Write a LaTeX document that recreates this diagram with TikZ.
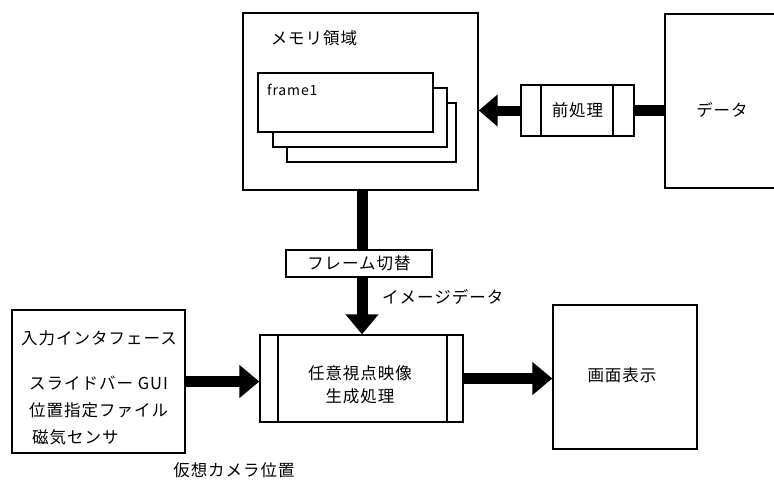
\documentclass[tikz,border=0pt]{standalone}
\usepackage{fontspec}
\setmainfont{Noto Sans CJK JP}[LetterSpace=6]
\usetikzlibrary{arrows.meta,calc}
\tikzset{
  box/.style={draw, line width=1.4pt, fill=white, inner sep=0pt},
  lbl/.style={font=\fontsize{16.5}{18}\selectfont, inner sep=0pt},
  fat/.style={line width=11pt},
  fatarrow/.style={line width=11pt, -{Triangle[length=20pt,width=32pt]}},
}
\begin{document}
\begin{tikzpicture}[x=1pt,y=-1pt]
\useasboundingbox (0,0) rectangle (774,482);
% memory area
\node[box, minimum width=235pt, minimum height=177pt] (mem) at (360.5,101.5) {};
\node[lbl] (memt) at (314,38) {メモリ領域};
\node[box, line width=1.2pt, minimum width=169pt, minimum height=59pt] (f3) at (371.5,132.5) {};
\node[box, line width=1.2pt, minimum width=174pt, minimum height=59pt] (f2) at (360,117.5) {};
\node[box, line width=1.2pt, minimum width=175pt, minimum height=59pt] (f1) at (345.5,102.5) {};
\node[lbl, anchor=west, font=\fontsize{14}{16}\selectfont] (f1t) at (267,90) {frame1};
% data
\node[box, minimum width=115pt, minimum height=174pt] (data) at (722.5,101) {};
\node[lbl] (datat) at (722,110) {データ};
% preprocessing
\node[box, minimum width=113pt, minimum height=51pt, lbl] (pre) at (577.5,110.5) {前処理};
\draw[line width=1.2pt] (541,85) -- (541,136) (613,85) -- (613,136);
% switch
\node[box, minimum width=146pt, minimum height=27pt, lbl] (sw) at (359,263.5) {フレーム切替};
% process
\node[box, minimum width=203pt, minimum height=87pt] (proc) at (361.5,378.5) {};
\draw[line width=1.2pt] (278,335) -- (278,422) (447,335) -- (447,422);
\node[lbl] (proct1) at (360,373) {任意視点映像};
\node[lbl] (proct2) at (360,396) {生成処理};
% display
\node[box, minimum width=144pt, minimum height=144pt] (disp) at (625,377) {};
\node[lbl] (dispt) at (622,375) {画面表示};
% input interface
\node[box, minimum width=173pt, minimum height=143pt] (inp) at (98.5,381.5) {};
\node[lbl, anchor=west] (in0) at (21,338) {入力インタフェース};
\node[lbl, anchor=west] (in1) at (29,383) {スライドバー GUI};
\node[lbl, anchor=west] (in2) at (29,410) {位置指定ファイル};
\node[lbl, anchor=west] (in3) at (32,437) {磁気センサ};
\node[lbl] (cam) at (234,470) {仮想カメラ位置};
\node[lbl, anchor=west] (img) at (382,297) {イメージデータ};
% connectors
\draw[fat] (data.west |- pre.east) -- (pre.east);
\draw[line width=10pt, -{Triangle[length=19pt,width=31pt]}] (pre.west) -- (pre.west -| mem.east);
\draw[fat] (362,190) coordinate (m1) -- (m1 |- sw.north);
\draw[fatarrow] (362,277) coordinate (s1) -- (s1 |- proc.north);
\draw[fatarrow] (inp.east) -- (inp.east -| proc.west);
\draw[fatarrow] (proc.east) -- (proc.east -| disp.west);
\end{tikzpicture}
\end{document}
